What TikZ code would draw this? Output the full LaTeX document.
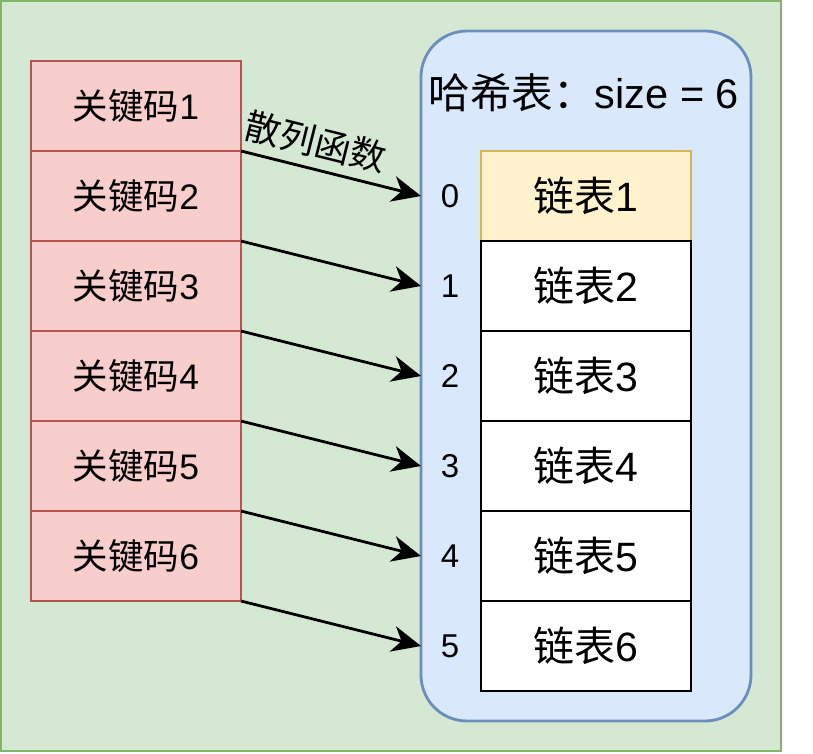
\documentclass[tikz,border=0pt]{standalone}
\usepackage{fontspec}
\setmainfont{Liberation Sans}
\newfontfamily\cjk{Noto Sans CJK SC}
\usetikzlibrary{arrows.meta}
\definecolor{gfill}{HTML}{D5E8D4}
\definecolor{gline}{HTML}{82B366}
\definecolor{rfill}{HTML}{F8CECC}
\definecolor{rline}{HTML}{B85450}
\definecolor{bfill}{HTML}{DAE8FC}
\definecolor{bline}{HTML}{6C8EBF}
\definecolor{yfill}{HTML}{FFF2CC}
\definecolor{yline}{HTML}{D6B656}
\tikzset{
  keybox/.style={draw=rline, fill=rfill, line width=2.8pt, minimum width=210pt, minimum height=90pt, inner sep=0pt, outer sep=0pt, font=\fontsize{35.5}{40}\selectfont},
  chainbox/.style={draw=black, fill=white, line width=2.8pt, minimum width=210pt, minimum height=90pt, inner sep=0pt, outer sep=0pt, font=\fontsize{41}{46}\selectfont},
  idx/.style={minimum width=58pt, minimum height=40pt, inner sep=0pt, outer sep=0pt, font=\fontsize{33}{38}\selectfont},
  conn/.style={line width=2.8pt, -{Stealth[length=29pt,width=26pt,inset=9pt]}},
}
\begin{document}
\begin{tikzpicture}[x=1pt,y=-1pt]
\useasboundingbox (0,0) rectangle (813,753);
\node[draw=gline, fill=gfill, line width=2.8pt, minimum width=780pt, minimum height=750pt, inner sep=0pt, outer sep=0pt] (bg) at (391,376) {};
\node[draw=bline, fill=bfill, line width=2.8pt, rounded corners=46pt, minimum width=330pt, minimum height=690pt, inner sep=0pt, outer sep=0pt] (table) at (586,376) {};
\node[inner sep=0pt, font=\fontsize{41.5}{46}\selectfont] (title) at (584,93) {{\cjk 哈希表：}size = 6};
\foreach \i in {1,...,6} {
  \node[keybox] (k\i) at (136,{106+90*(\i-1)}) {{\cjk 关键码}\i};
}
\node[chainbox, draw=yline, fill=yfill] (c1) at (586,196) {{\cjk 链表}1};
\foreach \i in {2,...,6} {
  \node[chainbox] (c\i) at (586,{196+90*(\i-1)}) {{\cjk 链表}\i};
}
\foreach \i in {0,...,5} {
  \node[idx] (i\i) at (450,{196+90*\i}) {\i};
}
\draw[conn] (k1.south east) -- (i0.west) node[pos=0.38, above=9pt, sloped, inner sep=0pt, font=\fontsize{36}{40}\selectfont] (lab) {\cjk 散列函数};
\draw[conn] (k2.south east) -- (i1.west);
\draw[conn] (k3.south east) -- (i2.west);
\draw[conn] (k4.south east) -- (i3.west);
\draw[conn] (k5.south east) -- (i4.west);
\draw[conn] (k6.south east) -- (i5.west);
\end{tikzpicture}
\end{document}
